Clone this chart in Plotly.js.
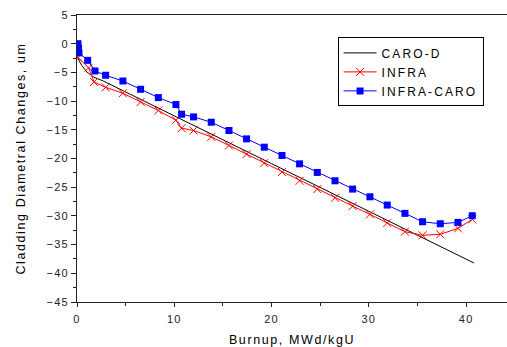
<!DOCTYPE html>
<html>
<head>
<meta charset="utf-8">
<script src="https://cdn.plot.ly/plotly-3.0.1.min.js"></script>
<style>
html, body { margin: 0; padding: 0; background: #fff; }
#chart { width: 507px; height: 347px; }
.xtitle, .ytitle { letter-spacing: 1.6px; }
.legendtext { letter-spacing: 2.1px; }
.xtick text, .ytick text { letter-spacing: 1.2px; }
</style>
</head>
<body>
<div id="chart"></div>
<script>
// CARO-D (calculated curve)
const caroX = [0, 0.5, 1, 1.7, 2.7, 5, 10, 20, 30, 40.8];
const caroY = [-2.3, -3.8, -4.9, -5.8, -6.5, -8.4, -12.5, -20.9, -29.2, -38.2];

// INFRA
const infraX = [0.1, 1.2, 1.75, 2.94, 4.72, 6.54, 8.36, 10.17, 10.75, 11.98, 13.8, 15.62, 17.43, 19.25, 21.07, 22.88, 24.7, 26.52, 28.33, 30.11, 31.89, 33.71, 35.52, 37.34, 39.16, 40.63];
const infraY = [-2.4, -4.2, -6.67, -7.6, -8.63, -10.15, -11.64, -13.33, -14.72, -15.12, -16.23, -17.73, -19.24, -20.8, -22.35, -23.88, -25.33, -26.84, -28.29, -29.73, -31.24, -32.75, -33.38, -33.2, -32.17, -30.6];

// INFRA-CARO
const icX = [0.1, 0.15, 0.2, 1.1, 1.85, 2.94, 4.72, 6.54, 8.36, 10.17, 10.75, 11.98, 13.8, 15.62, 17.43, 19.25, 21.07, 22.88, 24.7, 26.52, 28.33, 30.11, 31.89, 33.71, 35.52, 37.34, 39.16, 40.63];
const icY = [0.0, -0.8, -1.6, -2.9, -4.75, -5.5, -6.5, -7.94, -9.39, -10.6, -12.29, -12.75, -13.68, -15.12, -16.58, -18.03, -19.47, -20.93, -22.43, -23.88, -25.33, -26.67, -28.11, -29.56, -31.02, -31.37, -31.13, -29.97];

const seriesNames = ['CARO-D', 'INFRA', 'INFRA-CARO'];
const xTitle = 'Burnup, MWd/kgU';
const yTitle = 'Cladding Diametral Changes, um';

const font = 'Liberation Sans, Arial, sans-serif';

const traces = [
  { x: caroX, y: caroY, name: seriesNames[0], mode: 'lines', line: { color: '#000000', width: 1 } },
  { x: infraX, y: infraY, name: seriesNames[1], mode: 'lines+markers',
    line: { color: '#ff0000', width: 1 },
    marker: { symbol: 'x-thin-open', size: 8, color: '#ff0000', line: { color: '#ff0000', width: 1 } } },
  { x: icX, y: icY, name: seriesNames[2], mode: 'lines+markers',
    line: { color: '#0000ff', width: 1 },
    marker: { symbol: 'square', size: 7, color: '#0000ff' } }
];

const layout = {
  width: 507, height: 347,
  margin: { l: 77, r: 0, t: 15, b: 45 },
  paper_bgcolor: '#ffffff', plot_bgcolor: '#ffffff',
  font: { family: font, size: 11, color: '#000' },
  showlegend: true,
  legend: {
    x: 0.606, y: 0.922, xanchor: 'left', yanchor: 'top',
    bordercolor: '#000', borderwidth: 1, bgcolor: '#fff',
    font: { family: font, size: 12, color: '#000' },
    itemwidth: 33,
    tracegroupgap: 0
  },
  xaxis: {
    range: [0, 44.2], dtick: 10, tick0: 0,
    showgrid: false, zeroline: false,
    showline: true, linecolor: '#222', linewidth: 1, mirror: true,
    ticks: 'outside', ticklen: 4, tickwidth: 1, tickcolor: '#222',
    minor: { dtick: 5, ticks: 'outside', ticklen: 3, tickcolor: '#222', showgrid: false },
    tickfont: { family: font, size: 11, color: '#222' },
    ticklabelstandoff: 3,
    title: { text: xTitle, font: { family: font, size: 12.5, color: '#000' }, standoff: 12 }
  },
  yaxis: {
    range: [-45, 5], dtick: 5, tick0: 0,
    showgrid: false, zeroline: false,
    showline: true, linecolor: '#222', linewidth: 1, mirror: false,
    ticks: 'outside', ticklen: 5, tickwidth: 1, tickcolor: '#222',
    minor: { dtick: 2.5, ticks: 'outside', ticklen: 3, tickcolor: '#222', showgrid: false },
    tickfont: { family: font, size: 11, color: '#222' },
    title: { text: yTitle, font: { family: font, size: 12.5, color: '#000' }, standoff: 18 }
  }
};

Plotly.newPlot('chart', traces, layout, { displayModeBar: false, staticPlot: true });
</script>
</body>
</html>
